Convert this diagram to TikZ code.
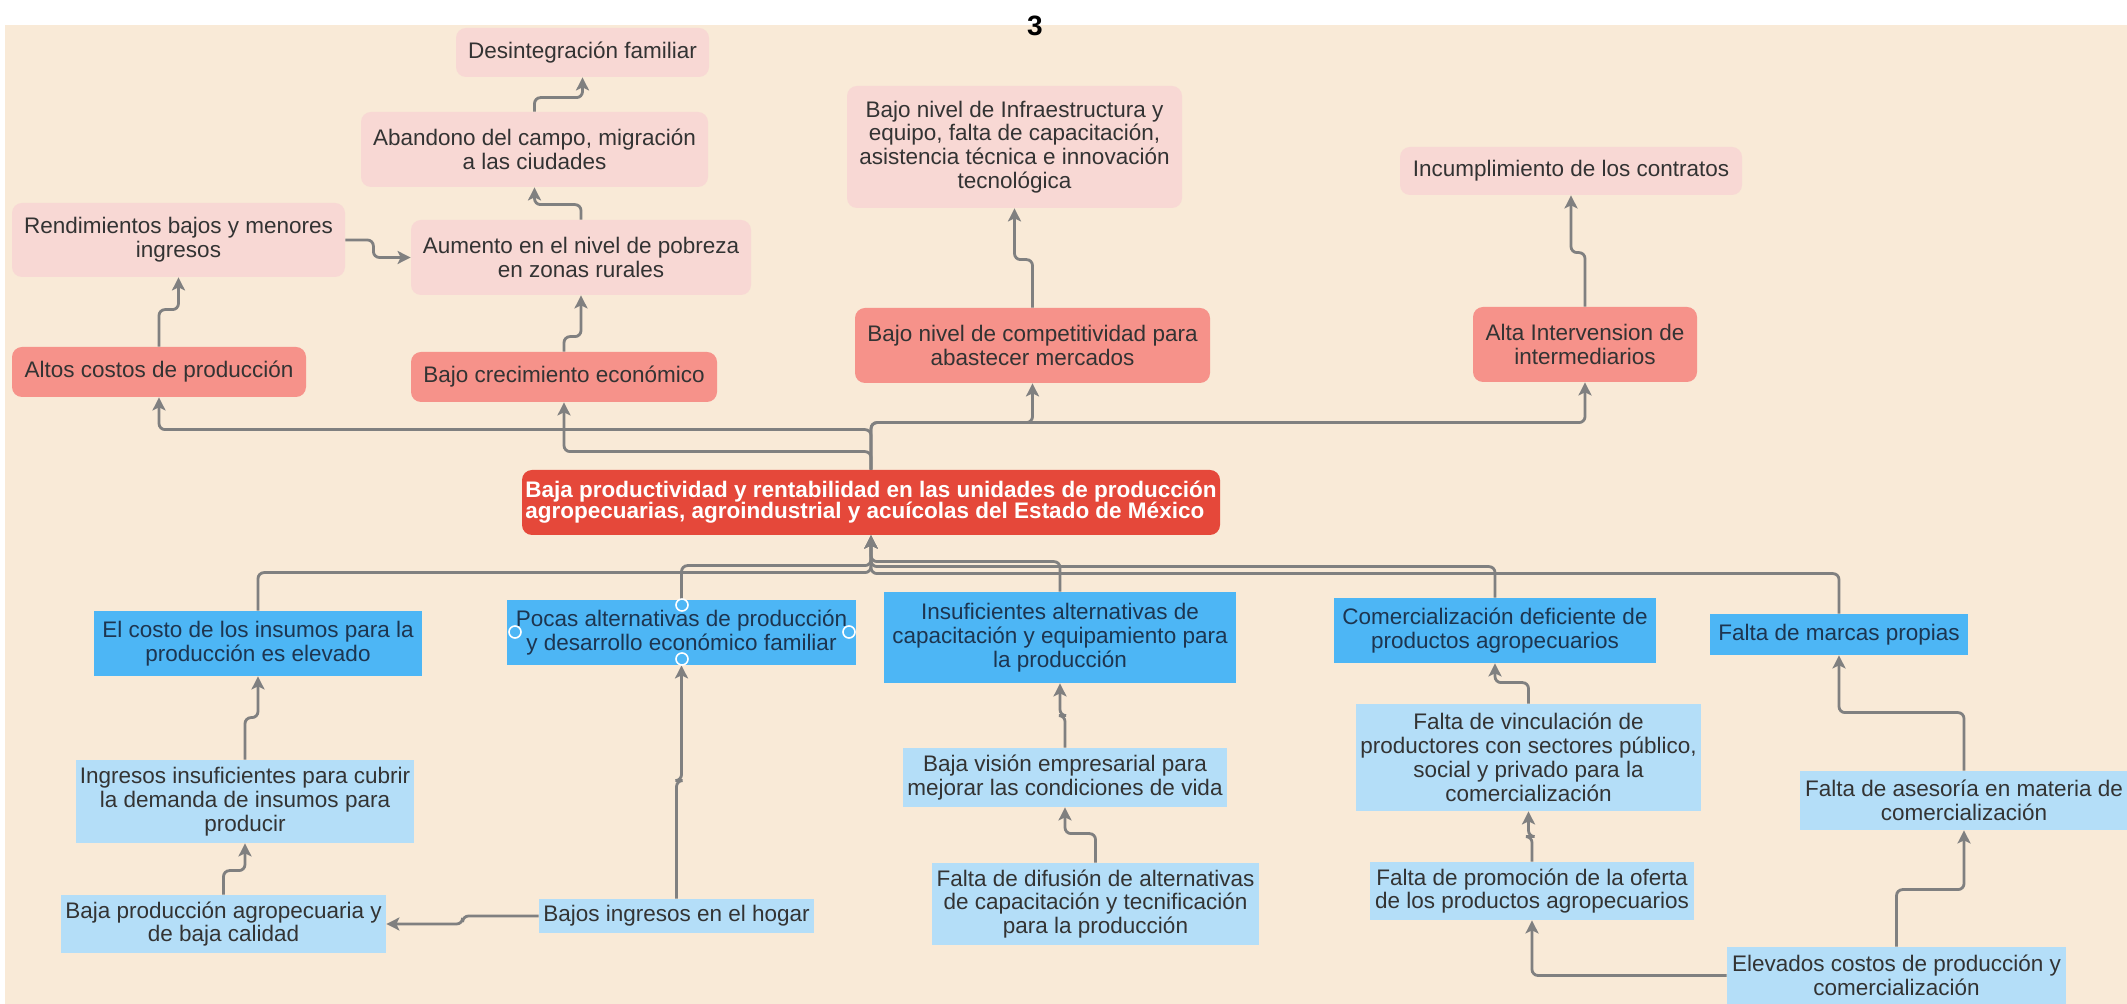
\documentclass[tikz,border=0pt]{standalone}
\usepackage{fontspec}
\setmainfont{Liberation Sans}
\usetikzlibrary{arrows.meta,calc}
\definecolor{bgc}{HTML}{F9EAD7}
\definecolor{pinkc}{HTML}{F8D8D4}
\definecolor{redc}{HTML}{F6928A}
\definecolor{corec}{HTML}{E5483A}
\definecolor{bluec}{HTML}{4DB6F5}
\definecolor{lbluec}{HTML}{B4DEF8}
\definecolor{connc}{HTML}{808080}
\definecolor{txtc}{HTML}{333333}
\definecolor{navyc}{HTML}{1D3550}
\newcommand{\mybox}[7][]{\node[#1, minimum width={(#5-#3)*0.5pt}, minimum height={(#6-#4)*0.5pt}] (#2) at ({(#3+#5)/2},{(#4+#6)/2}) {#7};}
\begin{document}
\begin{tikzpicture}[x=0.5pt,y=-0.5pt,
  font=\fontsize{11.25}{11.9}\selectfont,
  basebox/.style={inner sep=0pt, align=center},
  pinkbox/.style={basebox, fill=pinkc, rounded corners=5pt, text=txtc},
  redbox/.style={basebox, fill=redc, rounded corners=5pt, text=txtc},
  corebox/.style={basebox, align=left, fill=corec, rounded corners=5pt, text=white, font=\fontsize{11.25}{10.6}\selectfont\bfseries},
  bluebox/.style={basebox, fill=bluec, text=navyc},
  lbluebox/.style={basebox, fill=lbluec, text=txtc},
  conn/.style={draw=connc, line width=1.4pt, rounded corners=3pt},
  arr/.style={conn, -{Stealth[length=6.5pt,width=6.5pt,inset=1.5pt]}},
  handle/.style={circle, draw=white, line width=0.8pt, fill=bluec, minimum size=6pt, inner sep=0pt}
]
\useasboundingbox (0,0) rectangle (2127,1004);
\fill[white] (0,0) rectangle (2127,1004);
\fill[bgc] (5,25) rectangle (2127,1004);
\node[font=\fontsize{14}{14}\selectfont\bfseries] (pg) at (1035,26) {3};

% top (effects)
\mybox[pinkbox]{des}{456}{28}{709}{77}{Desintegración familiar}
\mybox[pinkbox]{aban}{361}{112}{708}{187}{Abandono del campo, migración\\a las ciudades}
\mybox[pinkbox]{rend}{12}{203}{345}{277}{Rendimientos bajos y menores\\ingresos}
\mybox[pinkbox]{aum}{411}{220}{751}{295}{Aumento en el nivel de pobreza\\en zonas rurales}
\mybox[redbox]{altos}{12}{347}{306}{397}{Altos costos de producción}
\mybox[redbox]{crec}{411}{352}{717}{402}{Bajo crecimiento económico}
\mybox[pinkbox]{infra}{847}{86}{1182}{208}{Bajo nivel de Infraestructura y\\equipo, falta de capacitación,\\asistencia técnica e innovación\\tecnológica}
\mybox[redbox]{comp}{855}{308}{1210}{383}{Bajo nivel de competitividad para\\abastecer mercados}
\mybox[pinkbox]{incum}{1400}{147}{1742}{195}{Incumplimiento de los contratos}
\mybox[redbox]{alta}{1473}{307}{1697}{382}{Alta Intervension de\\intermediarios}

% core
\mybox[corebox]{core}{522}{470}{1220}{535}{Baja productividad y rentabilidad en las unidades de producción\\agropecuarias, agroindustrial y acuícolas del Estado de México}

% bottom (causes)
\mybox[bluebox]{costo}{94}{611}{422}{676}{El costo de los insumos para la\\producción es elevado}
\mybox[bluebox]{pocas}{507}{600}{856}{665}{Pocas alternativas de producción\\y desarrollo económico familiar}
\mybox[bluebox]{insuf}{884}{592}{1236}{683}{Insuficientes alternativas de\\capacitación y equipamiento para\\la producción}
\mybox[bluebox]{comer}{1334}{598}{1656}{663}{Comercialización deficiente de\\productos agropecuarios}
\mybox[bluebox]{marcas}{1710}{614}{1968}{655}{Falta de marcas propias}
\mybox[lbluebox]{ingr}{76}{760}{414}{843}{Ingresos insuficientes para cubrir\\la demanda de insumos para\\producir}
\mybox[lbluebox]{bprod}{61}{895}{386}{953}{Baja producción agropecuaria y\\de baja calidad}
\mybox[lbluebox]{bajos}{539}{899}{814}{933}{Bajos ingresos en el hogar}
\mybox[lbluebox]{vision}{903}{748}{1227}{807}{Baja visión empresarial para\\mejorar las condiciones de vida}
\mybox[lbluebox]{difus}{932}{863}{1259}{945}{Falta de difusión de alternativas\\de capacitación y tecnificación\\para la producción}
\mybox[lbluebox]{vinc}{1356}{704}{1701}{811}{Falta de vinculación de\\productores con sectores público,\\social y privado para la\\comercialización}
\mybox[lbluebox]{promo}{1370}{862}{1694}{920}{Falta de promoción de la oferta\\de los productos agropecuarios}
\mybox[lbluebox]{ases}{1800}{771}{2128}{830}{Falta de asesoría en materia de\\comercialización}
\mybox[lbluebox]{elev}{1727}{947}{2066}{1004}{Elevados costos de producción y\\comercialización}

% connectors: core to effects
\draw[arr] (core.north) -- ++(0,-40) -| (altos.south);
\draw[arr] (core.north) -- ++(0,-18) -| (crec.south);
\draw[arr] (core.north) -- ++(0,-47) -| (comp.south);
\draw[arr] (core.north) -- ++(0,-47) -| (alta.south);
% effect chains
\draw[arr] (altos.north) -- ++(0,-37) -| (rend.south);
\draw[arr] (rend.east) -- ++(28,0) |- (aum.west);
\draw[arr] (crec.north) -- ++(0,-15) -| (aum.south);
\draw[arr] (aum.north) -- ++(0,-15) -| (aban.south);
\draw[arr] (aban.north) -- ++(0,-14) -| (des.south);
\draw[arr] (comp.north) -- ++(0,-48) -| (infra.south);
\draw[arr] (alta.north) -- ++(0,-54) -| (incum.south);

% causes to core
\draw[arr] (costo.north) -- ++(0,-38) -| (core.south);
\draw[arr] (pocas.north) -- ++(0,-34) -| (core.south);
\draw[arr] (insuf.north) -- ++(0,-30) -| (core.south);
\draw[arr] (comer.north) -- ++(0,-31) -| (core.south);
\draw[arr] (marcas.north) -- ++(0,-40) -| (core.south);
% cause chains
\draw[arr] (ingr.north) -- ++(0,-42) -| (costo.south);
\draw[arr] (bprod.north) -- ++(0,-24) -| (ingr.south);
\draw[arr] (bajos.west) -- ++(-76,0) |- (bprod.east);
\draw[arr] (bajos.north) -- ++(0,-118) -| (pocas.south);
\draw[arr] (vision.north) -- ++(0,-32) -| (insuf.south);
\draw[arr] (difus.north) -- ++(0,-29) -| (vision.south);
\draw[arr] (vinc.north) -- ++(0,-21) -| (comer.south);
\draw[arr] (promo.north) -- ++(0,-25) -| (vinc.south);
\draw[arr] (elev.west) -| (promo.south);
\draw[arr] (elev.north) -- ++(0,-57) -| (ases.south);
\draw[arr] (ases.north) -- ++(0,-58) -| (marcas.south);

% selection handles on "Pocas alternativas"
\node[handle] (ht) at (682,605) {};
\node[handle] (hb) at (682,659) {};
\node[handle] (hl) at (515,632) {};
\node[handle] (hr) at (849,632) {};
\end{tikzpicture}
\end{document}
